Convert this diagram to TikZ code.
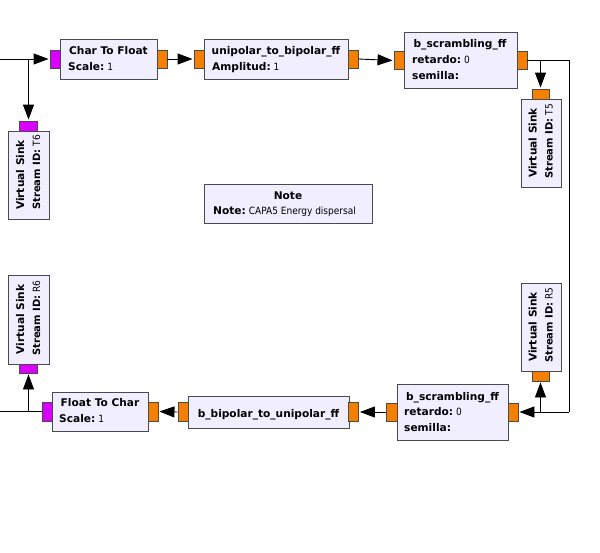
\documentclass[tikz,border=0pt]{standalone}
\usepackage{fontspec}
\setmainfont{DejaVu Sans}
\newfontfamily\valfont[FakeStretch=0.9]{DejaVu Sans}
\usetikzlibrary{arrows.meta}
\definecolor{blkfill}{HTML}{F1EEFF}
\definecolor{blkline}{HTML}{4A4A4A}
\definecolor{fport}{HTML}{F57F00}
\definecolor{bport}{HTML}{D900FF}
\frenchspacing
\newcommand\parval[2]{{\bfseries #1:}\hspace{3pt}{\valfont\fontsize{10}{12}\selectfont #2}}
\tikzset{
  blk/.style={draw=blkline, fill=blkfill, line width=0.9pt, inner sep=0pt, rectangle},
  fprt/.style={draw=blkline, fill=fport, line width=0.9pt, inner sep=0pt, rectangle},
  bprt/.style={draw=blkline, fill=bport, line width=0.9pt, inner sep=0pt, rectangle},
  txt/.style={inner sep=0pt, font=\fontsize{10.6}{12}\selectfont},
  vtxt/.style={inner sep=0pt, font=\fontsize{10}{12}\selectfont},
  conn/.style={draw=black, line width=0.9pt, -{Triangle[length=15pt,width=11pt]}, shorten >=1pt},
  plain/.style={draw=black, line width=0.9pt}
}
\begin{document}
\begin{tikzpicture}[x=1pt,y=-1pt]
\useasboundingbox[fill=white] (0,0) rectangle (600,552);
% Char To Float
\node[blk, minimum width=97, minimum height=40] (c2f) at (108.5,59) {};
\node[bprt, minimum width=10, minimum height=18] (c2fi) at (55,59) {};
\node[fprt, minimum width=10, minimum height=18] (c2fo) at (162,59) {};
\node[txt, anchor=base] (c2ft) at (108.5,54) {\bfseries Char To Float};
\node[txt, anchor=base west] (c2fp) at (68,70) {\parval{Scale}{1}};
% unipolar_to_bipolar_ff
\node[blk, minimum width=144, minimum height=40] (uni) at (276,59) {};
\node[fprt, minimum width=10, minimum height=18] (unii) at (199,59) {};
\node[fprt, minimum width=10, minimum height=18] (unio) at (353,59) {};
\node[txt, anchor=base] (unit) at (276,54) {\bfseries unipolar\_to\_bipolar\_ff};
\node[txt, anchor=base west] (unip) at (212,70) {\parval{Amplitud}{1}};
% b_scrambling_ff top
\node[blk, minimum width=113, minimum height=56] (bs1) at (460.5,60) {};
\node[fprt, minimum width=10, minimum height=18] (bs1i) at (399,60.5) {};
\node[fprt, minimum width=10, minimum height=18] (bs1o) at (522,60.5) {};
\node[txt, anchor=base] (bs1t) at (460,47) {\bfseries b\_scrambling\_ff};
\node[txt, anchor=base west] (bs1p) at (412,63) {\parval{retardo}{0}};
\node[txt, anchor=base west] (bs1q) at (412,79) {\bfseries semilla:};
% Virtual Sink T5
\node[fprt, minimum width=17, minimum height=10] (t5p) at (540.5,94) {};
\node[blk, minimum width=40, minimum height=88] (t5) at (541,143) {};
\node[txt, anchor=base, rotate=90] (t5t) at (536.5,143) {\bfseries Virtual Sink};
\node[vtxt, anchor=base west, rotate=90] (t5s) at (552.5,179) {\parval{Stream ID}{T5}};
% Virtual Sink T6
\node[bprt, minimum width=18, minimum height=10] (t6p) at (28.5,126) {};
\node[blk, minimum width=41, minimum height=88] (t6) at (28.5,175) {};
\node[txt, anchor=base, rotate=90] (t6t) at (24,175) {\bfseries Virtual Sink};
\node[vtxt, anchor=base west, rotate=90] (t6s) at (40,210) {\parval{Stream ID}{T6}};
% Note
\node[blk, minimum width=168, minimum height=39] (note) at (288,203.5) {};
\node[txt, anchor=base] (notet) at (288,199) {\bfseries Note};
\node[txt, anchor=base west] (notep) at (213,214) {\parval{Note}{CAPA5 Energy dispersal}};
% Virtual Sink R6
\node[blk, minimum width=41, minimum height=89] (r6) at (28.5,319.5) {};
\node[bprt, minimum width=18, minimum height=9] (r6p) at (28.5,368.5) {};
\node[txt, anchor=base, rotate=90] (r6t) at (24,319.5) {\bfseries Virtual Sink};
\node[vtxt, anchor=base west, rotate=90] (r6s) at (40,356) {\parval{Stream ID}{R6}};
% Virtual Sink R5
\node[blk, minimum width=40, minimum height=88] (r5) at (541,327) {};
\node[fprt, minimum width=17, minimum height=10] (r5p) at (540.5,376) {};
\node[txt, anchor=base, rotate=90] (r5t) at (536.5,327) {\bfseries Virtual Sink};
\node[vtxt, anchor=base west, rotate=90] (r5s) at (552.5,363) {\parval{Stream ID}{R5}};
% Float To Char
\node[blk, minimum width=96, minimum height=39] (f2c) at (100,411.5) {};
\node[bprt, minimum width=10, minimum height=19] (f2co) at (47,411.5) {};
\node[fprt, minimum width=10, minimum height=19] (f2ci) at (153,411.5) {};
\node[txt, anchor=base] (f2ct) at (100,406.5) {\bfseries Float To Char};
\node[txt, anchor=base west] (f2cp) at (59,422) {\parval{Scale}{1}};
% b_bipolar_to_unipolar_ff
\node[blk, minimum width=161, minimum height=32] (bb) at (268.5,412) {};
\node[fprt, minimum width=10, minimum height=19] (bbo) at (183,412) {};
\node[fprt, minimum width=10, minimum height=19] (bbi) at (353.5,412) {};
\node[txt, anchor=base] (bbt) at (268.5,417) {\bfseries b\_bipolar\_to\_unipolar\_ff};
% b_scrambling_ff bottom
\node[blk, minimum width=111, minimum height=56] (bs2) at (452.5,412) {};
\node[fprt, minimum width=11, minimum height=18] (bs2o) at (391.5,412) {};
\node[fprt, minimum width=10, minimum height=18] (bs2i) at (513,412) {};
\node[txt, anchor=base] (bs2t) at (452.5,400) {\bfseries b\_scrambling\_ff};
\node[txt, anchor=base west] (bs2p) at (404,415) {\parval{retardo}{0}};
\node[txt, anchor=base west] (bs2q) at (404,431) {\bfseries semilla:};
% free ends and bends
\coordinate (lin) at (0,59);
\coordinate (lout) at (0,411.5);
\coordinate (rt) at (569,60.5);
\coordinate (rb) at (569,412);
% connectors
\draw[conn] (lin) -- (c2fi.west);
\draw[conn] (lin) -| (t6p.north);
\draw[conn] (c2fo.east) -- (unii.west);
\draw[conn] (unio.east) -- (bs1i.west);
\draw[conn] (bs1o.east) -| (t5p.north);
\draw[plain] (bs1o.east) -- (rt) -- (rb);
\draw[conn] (rb) -- (bs2i.east);
\draw[conn] (rb) -| (r5p.south);
\draw[conn] (bs2o.west) -- (bbi.east);
\draw[conn] (bbo.west) -- (f2ci.east);
\draw[plain] (f2co.west) -- (lout);
\draw[conn] (f2co.west) -| (r6p.south);
\end{tikzpicture}
\end{document}
